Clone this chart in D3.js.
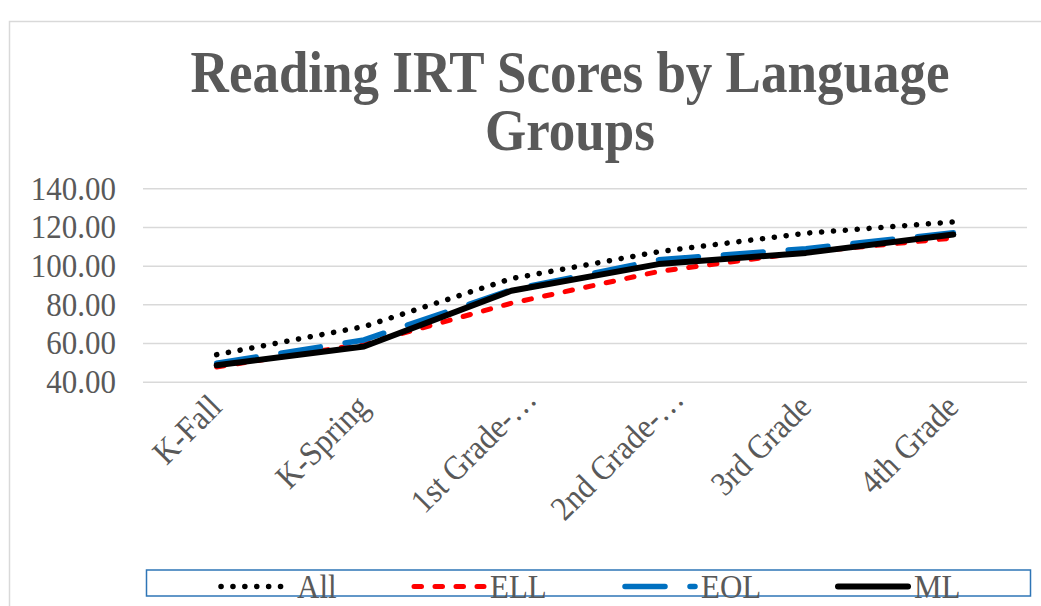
<!DOCTYPE html>
<html>
<head>
<meta charset="utf-8">
<script src="https://cdn.jsdelivr.net/npm/d3@7/dist/d3.min.js"></script>
<style>
  html, body { margin: 0; padding: 0; background: #fff; overflow: hidden; }
  text { font-family: "Liberation Serif", "Times New Roman", serif; fill: #595959; }
</style>
</head>
<body>
<svg id="chart" width="1041" height="606"></svg>
<script>
// reading IRT scores
const categories = ["K-Fall", "K-Spring", "1st Grade-…", "2nd Grade-…", "3rd Grade", "4th Grade"];
const allScores = [54.0, 68.5, 93.3, 107.2, 116.8, 122.6];
const ellScores = [47.6, 59.5, 80.6, 97.0, 107.0, 114.3];
const eolScores = [49.5, 61.6, 87.5, 103.0, 108.8, 117.0];
const mlScores  = [48.5, 58.2, 87.0, 100.8, 106.6, 116.1];
const yTicks = [40, 60, 80, 100, 120, 140];
const titleLines = ["Reading IRT Scores by Language", "Groups"];

const series = [
    {name: "All", values: allScores, color: "#000", width: 5.5, dash: "0.1 11.8"},
    {name: "ELL", values: ellScores, color: "#ff0000", width: 5, dash: "7.5 13.5"},
    {name: "EOL", values: eolScores, color: "#0070c0", width: 5.5, dash: "40 25"},
    {name: "ML",  values: mlScores,  color: "#000", width: 6, dash: null}
];

const SY = 1.1; // picture is slightly stretched vertically
const svg = d3.select("#chart");

// chart frame
svg.append("rect").attr("x", 9.5).attr("y", 21.5).attr("width", 1100).attr("height", 700)
    .attr("fill", "none").attr("stroke", "#d9d9d9").attr("stroke-width", 1.5);

const x = d3.scaleBand().domain(categories).range([143, 1027]);
const y = d3.scaleLinear().domain([40, 140]).range([381.7, 188.3]);

// title
titleLines.forEach((t, i) => {
    svg.append("text")
        .attr("transform", `translate(570,${92 + i * 58}) scale(1,${SY})`)
        .attr("text-anchor", "middle")
        .style("font-size", "53px").style("font-weight", "bold")
        .text(t);
});

// gridlines
const grid = svg.append("g").attr("transform", "translate(143,0)")
    .call(d3.axisLeft(y).tickValues(yTicks).tickSize(-(1027 - 143)).tickFormat(""));
grid.select(".domain").remove();
grid.selectAll("line").attr("stroke", "#d9d9d9").attr("stroke-width", 1.5);

// y labels
const yAxis = svg.append("g").attr("transform", "translate(116,0)")
    .call(d3.axisLeft(y).tickValues(yTicks).tickSize(0).tickPadding(0).tickFormat(d3.format(".2f")));
yAxis.select(".domain").remove();
yAxis.selectAll("text")
    .attr("fill", "#595959")
    .style("font-size", "31px")
    .style("font-family", "Liberation Serif, serif")
    .attr("transform", `scale(1,${SY})`);

// x labels (truncated ones sit a little further up/right in Excel)
const xAxis = svg.append("g").attr("transform", "translate(0,409)")
    .call(d3.axisBottom(x).tickSize(0).tickPadding(0));
xAxis.select(".domain").remove();
xAxis.selectAll("text")
    .attr("fill", "#595959")
    .style("font-size", "31px")
    .style("font-family", "Liberation Serif, serif")
    .attr("text-anchor", "end")
    .attr("y", 0).attr("dy", 0)
    .attr("transform", d => {
        const off = d.endsWith("…") ? [27, -8] : [7, 0];
        return `translate(${off[0]},${off[1]}) rotate(-45) scale(1,${SY})`;
    });

// lines
const line = d3.line()
    .x((d, i) => x(categories[i]) + x.bandwidth() / 2)
    .y(d => y(d));

series.forEach(s => {
    svg.append("path")
        .datum(s.values)
        .attr("d", line)
        .attr("fill", "none")
        .attr("stroke", s.color)
        .attr("stroke-width", s.width)
        .attr("stroke-linecap", "round")
        .attr("stroke-linejoin", "round")
        .attr("stroke-dasharray", s.dash);
});

// legend
svg.append("rect").attr("x", 146.5).attr("y", 570).attr("width", 884).attr("height", 26)
    .attr("fill", "none").attr("stroke", "#2e75b6").attr("stroke-width", 1.5);

const legendX = [221, 414, 625, 838];
series.forEach((s, i) => {
    const g = svg.append("g").attr("transform", `translate(${legendX[i]},586.5)`);
    g.append("line").attr("x1", 0).attr("x2", 70).attr("y1", 0).attr("y2", 0)
        .attr("stroke", s.color).attr("stroke-width", s.width)
        .attr("stroke-linecap", "round").attr("stroke-dasharray", s.dash);
    g.append("text")
        .attr("transform", `translate(76,11) scale(1,${SY})`)
        .style("font-size", "31px")
        .text(s.name);
});
</script>
</body>
</html>
